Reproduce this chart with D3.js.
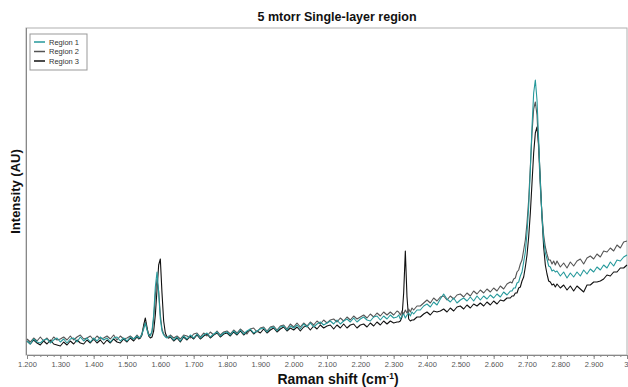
<!DOCTYPE html>
<html>
<head>
<meta charset="utf-8">
<script src="https://cdn.jsdelivr.net/npm/d3@7"></script>
<style>
  body { margin: 0; background: #fff; }
  text { font-family: "Liberation Sans", Arial, sans-serif; }
</style>
</head>
<body>
<div id="chart"></div>
<script>
// Raman shift sampling (cm-1), finer around the peaks
const shifts = [
  1200,1210,1220,1230,1240,1250,1260,1270,1280,1290,1300,1310,1320,1330,1340,1350,1360,1370,1380,1390,
  1400,1410,1420,1430,1440,1450,1460,1470,1480,1490,1500,1510,1520,1530,
  1535,1540,1545,1550,1555,1560,1565,1570,1575,1580,1585,1590,1595,1600,1605,1610,1615,1620,1625,
  1630,1640,1650,1660,1670,1680,1690,1700,1710,1720,1730,1740,1750,1760,1770,1780,1790,1800,1810,1820,
  1830,1840,1850,1860,1870,1880,1890,1900,1910,1920,1930,1940,1950,1960,1970,1980,1990,2000,2010,2020,
  2030,2040,2050,2060,2070,2080,2090,2100,2110,2120,2130,2140,2150,2160,2170,2180,2190,2200,2210,2220,
  2230,2240,2250,2260,2270,2280,2290,2300,2310,
  2315,2320,2325,2330,2335,2340,2345,2350,2355,
  2360,2370,2380,2390,2400,2410,2420,2430,2440,2450,2460,2470,2480,2490,2500,2510,2520,2530,2540,2550,
  2560,2570,2580,2590,2600,2610,2620,2630,2640,2650,
  2655,2660,2665,2670,2675,2680,2685,2690,2695,2700,2705,2710,2715,2720,2725,2730,2735,2740,2745,2750,
  2755,2760,2765,2770,2775,2780,2785,
  2790,2800,2810,2820,2830,2840,2850,2860,2870,2880,2890,2900,2910,2920,2930,2940,2950,2960,2970,2980,
  2990,3000
];

const region1 = [
  14,11,16,13,12,15,16,12,15,17, 13,16,12,16,17,13,18,14,17,13, 17,14,18,15,17,13,17,18,14,17, 14,18,16,19,
  17,18,21,26,32,25,20,19,24,40, 68,83,62,36,24,20,18,17,19,
  19,15,18,14,19,16,20,17,21,17, 20,22,18,21,23,19,22,23,20,24, 21,25,21,24,26,22,24,26,27,23,
  27,28,24,28,29,25,29,27,30,26, 31,28,32,28,31,33,30,32,34,31, 35,31,34,36,33,37,33,36,38,35,
  34,38,39,35,39,36,40,37,38,
  40,36,39,41,37,40,42,39,43,
  41,45,45,49,51,48,53,50,56,61, 56,53,57,52,55,57,54,58,54,59, 55,59,56,60,57,61,58,63,60,64,
  64,67,67,72,73,79,83,93,103,122, 148,185,228,262,275,255,215,172,138,115, 102,96,89,88,84,85,83,
  84,79,83,77,82,78,83,79,85,81, 86,83,88,85,90,87,93,89,95,94, 98,100
];

const region2 = [
  16,13,17,14,18,14,17,13,18,15, 16,18,15,19,15,18,20,16,17,19, 15,19,16,17,19,16,20,15,19,16, 17,19,16,20,
  18,17,22,28,33,26,21,20,23,36, 60,76,64,40,26,21,19,18,17,
  20,17,19,16,20,19,17,21,22,18, 22,19,23,20,24,20,23,24,21,25, 22,26,23,21,26,27,23,27,28,24,
  28,29,25,29,30,26,31,28,32,28, 32,29,33,30,34,31,35,32,35,36, 33,37,34,38,35,39,36,38,40,37,
  41,38,42,39,43,40,43,40,44,
  43,40,44,41,45,42,46,43,47,
  45,49,49,52,55,52,57,54,58,59, 55,59,56,60,61,58,62,59,64,61, 65,62,66,63,67,64,69,66,71,73,
  72,76,77,83,85,91,95,105,115,132, 155,188,222,246,253,240,205,168,140,120, 108,101,95,95,91,94,90,
  94,88,92,87,93,89,94,96,91,97, 99,96,101,98,104,103,107,104,110,107, 113,114
];

const region3 = [
  14,11,15,12,10,14,11,15,11,10, 9,13,10,14,11,15,12,11,15,12, 16,12,15,11,15,12,16,13,12,16, 13,17,14,18,
  16,17,20,30,37,28,19,17,18,24, 40,65,90,96,62,34,22,18,17,
  18,14,17,13,18,15,19,16,20,16, 19,21,17,20,22,18,21,22,19,23, 20,24,20,23,25,21,24,22,26,22,
  25,27,23,26,28,24,27,25,28,24, 28,29,25,29,26,30,27,29,30,26, 30,27,31,27,30,31,27,30,31,28,
  32,29,33,30,34,31,34,32,33,
  33,34,38,62,104,58,36,34,35,
  35,38,38,41,43,40,44,43,44,46, 43,47,44,48,49,46,50,47,51,49, 52,49,53,50,54,51,55,54,57,57,
  59,59,62,62,67,68,74,78,88,100, 118,142,172,202,222,228,210,175,138,108, 90,81,74,73,70,71,68,
  71,67,70,65,69,64,69,66,63,70, 70,73,73,74,76,80,79,83,83,87, 87,90
];

const seriesNames = ["Region 1", "Region 2", "Region 3"];
const seriesColors = ["#26999b", "#555555", "#111111"];

const majorTicks = [1200,1300,1400,1500,1600,1700,1800,1900,2000,2100,2200,2300,2400,2500,2600,2700,2800,2900,3000];
const tickLabels = ["1.200","1.300","1.400","1.500","1.600","1.700","1.800","1.900","2.000","2.100",
  "2.200","2.300","2.400","2.500","2.600","2.700","2.800","2.900","3"];

const width = 628, height = 387;
const plot = { left: 26, top: 28, right: 627, bottom: 355 };

let svg = d3.select("#chart")
  .append("svg")
  .attr("width", width)
  .attr("height", height)
  .style("display", "block");

let x = d3.scaleLinear()
  .domain([1200, 3000])
  .range([plot.left + 1, plot.right]);

let y = d3.scaleLinear()
  .domain([0, 327])
  .range([plot.bottom, plot.top]);

// plot outline
svg.append("rect")
  .attr("x", plot.left)
  .attr("y", plot.top)
  .attr("width", plot.right - plot.left)
  .attr("height", plot.bottom - plot.top)
  .style("fill", "none")
  .style("stroke", "#b0b0b0")
  .style("stroke-width", 1);

svg.append("line")
  .attr("x1", plot.left + 0.5).attr("x2", plot.left + 0.5)
  .attr("y1", plot.top).attr("y2", plot.bottom)
  .style("stroke", "#888");

// minor ticks every 20
svg.append("g")
  .attr("transform", `translate(0,${plot.bottom})`)
  .call(d3.axisBottom(x).tickValues(d3.range(1200, 3001, 20)).tickSize(2).tickFormat(""))
  .call(g => g.select(".domain").remove())
  .selectAll("line")
  .style("stroke", "#888");

let xAxis = svg.append("g")
  .attr("transform", `translate(0,${plot.bottom})`)
  .call(d3.axisBottom(x)
    .tickValues(majorTicks)
    .tickFormat((d, i) => tickLabels[i])
    .tickSize(4)
    .tickSizeOuter(0)
    .tickPadding(3));

xAxis.select(".domain").style("stroke", "#888");
xAxis.selectAll(".tick line").style("stroke", "#888");
xAxis.selectAll(".tick text")
  .style("font-family", "\"Liberation Sans\", Arial, sans-serif")
  .style("font-size", "7.5px")
  .style("fill", "#555");
// last label sits at the right edge
xAxis.selectAll(".tick text").filter(d => d === 3000)
  .attr("text-anchor", "end")
  .attr("dx", 1);

let line = d3.line()
  .x((d, i) => x(shifts[i]))
  .y(d => y(d));

// series 0 on top, like the original renderer
const allSeries = [region1, region2, region3];
for (let s = allSeries.length - 1; s >= 0; s--) {
  svg.append("path")
    .datum(allSeries[s])
    .attr("d", line)
    .style("fill", "none")
    .style("stroke", seriesColors[s])
    .style("stroke-width", 1.1)
    .style("stroke-linejoin", "round");
}

// title and axis labels
svg.append("text")
  .attr("x", 337)
  .attr("y", 21)
  .attr("text-anchor", "middle")
  .style("font-size", "12.5px")
  .style("font-weight", "bold")
  .style("fill", "#111")
  .text("5 mtorr Single-layer region");

let xLabel = svg.append("text")
  .attr("x", 338)
  .attr("y", 384)
  .attr("text-anchor", "middle")
  .style("font-size", "14px")
  .style("font-weight", "bold")
  .style("fill", "#111");
xLabel.append("tspan").text("Raman shift (cm");
xLabel.append("tspan").attr("dy", -5).style("font-size", "8.5px").text("-1");
xLabel.append("tspan").attr("dy", 5).text(")");

svg.append("text")
  .attr("transform", `translate(20,${(plot.top + plot.bottom) / 2}) rotate(-90)`)
  .attr("text-anchor", "middle")
  .style("font-size", "13px")
  .style("font-weight", "bold")
  .style("fill", "#111")
  .text("Intensity (AU)");

// legend
let legend = svg.append("g").attr("transform", "translate(30,34)");
legend.append("rect")
  .attr("width", 57)
  .attr("height", 36)
  .style("fill", "#fff")
  .style("stroke", "#999");

seriesNames.forEach((name, i) => {
  let row = legend.append("g").attr("transform", `translate(0,${8 + i * 9.5})`);
  row.append("line")
    .attr("x1", 4).attr("x2", 15)
    .style("stroke", seriesColors[i])
    .style("stroke-width", 1.5);
  row.append("text")
    .attr("x", 19)
    .attr("dy", "0.35em")
    .style("font-size", "7.5px")
    .style("fill", "#333")
    .text(name);
});
</script>
